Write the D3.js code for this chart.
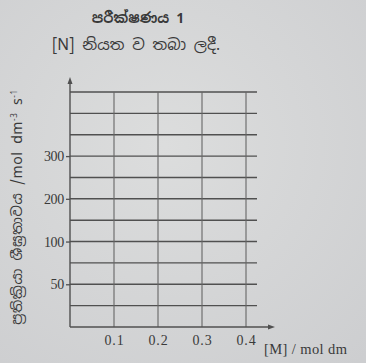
<!DOCTYPE html>
<html>
<head>
<meta charset="utf-8">
<script src="https://cdn.jsdelivr.net/npm/d3@7"></script>
<style>
  html, body { margin: 0; padding: 0; background: #d6d7d8; }
  svg { display: block; }
  text { font-family: "Liberation Serif", "DejaVu Serif", serif; fill: #3a3a3a; }
  .si { font-family: "Noto Sans Sinhala", "Noto Serif Sinhala", "Iskoola Pota", "Noto Sans", sans-serif; }
</style>
</head>
<body>
<script>
// ---- data ----
const titleLines = ["පරීක්ෂණය 1", "[N] නියත ව තබා ලදී."];
const xTicks = [0.1, 0.2, 0.3, 0.4];
const xTickLabels = ["0.1", "0.2", "0.3", "0.4"];
const xLabel = "[M] / mol dm";
const yGridRows = [1, 2, 3, 4, 5, 6, 7, 8, 9, 10, 11];
const yTickPositions = [2, 4, 6, 8];
const yTickLabels = ["50", "100", "200", "300"];
const yLabel = "ප්‍රතික්‍රියා ශීඝ්‍රතාවය /mol dm";

const W = 366, H = 363;
const svg = d3.select("body").append("svg").attr("width", W).attr("height", H);

// paper-like background
const defs = svg.append("defs");
const grad = defs.append("radialGradient").attr("id", "bg").attr("cx", "45%").attr("cy", "40%").attr("r", "80%");
grad.append("stop").attr("offset", "0%").attr("stop-color", "#dcdddd");
grad.append("stop").attr("offset", "100%").attr("stop-color", "#cdced0");
svg.append("rect").attr("width", W).attr("height", H).attr("fill", "url(#bg)");

const x = d3.scaleLinear().domain([0, 0.4]).range([70, 246]);
const y = d3.scaleLinear().domain([0, 11]).range([327, 92]);
const xEnd = 257;

const ink = "#505050";
const g = svg.append("g");

// horizontal grid lines
g.selectAll("line.h").data(yGridRows).join("line")
  .attr("x1", x(0)).attr("x2", xEnd)
  .attr("y1", d => y(d)).attr("y2", d => y(d))
  .attr("stroke", ink).attr("stroke-width", 1.4);

// vertical grid lines
g.selectAll("line.v").data(xTicks).join("line")
  .attr("x1", d => x(d)).attr("x2", d => x(d))
  .attr("y1", y(0)).attr("y2", y(11))
  .attr("stroke", "#666").attr("stroke-width", 1.1);

// axes with arrows
g.append("line").attr("x1", x(0)).attr("x2", x(0)).attr("y1", y(0)).attr("y2", 80)
  .attr("stroke", ink).attr("stroke-width", 1.4);
g.append("path").attr("d", `M${x(0)-2.5},84 L${x(0)},77 L${x(0)+2.5},84 Z`).attr("fill", ink);
g.append("line").attr("x1", x(0)).attr("x2", 270).attr("y1", y(0)).attr("y2", y(0))
  .attr("stroke", ink).attr("stroke-width", 1.6);
g.append("path").attr("d", `M268,${y(0)-2.5} L275,${y(0)} L268,${y(0)+2.5} Z`).attr("fill", ink);

// y tick labels
const yAxis = d3.axisLeft(y).tickValues(yTickPositions)
  .tickFormat((d, i) => yTickLabels[i]).tickSize(4).tickPadding(2);
const ya = g.append("g").attr("transform", `translate(${x(0)},0)`).call(yAxis);
ya.select(".domain").remove();
ya.selectAll("line").attr("stroke", ink).attr("stroke-width", 1.3);
ya.selectAll("text").attr("font-size", 14).attr("fill", "#333")
  .attr("font-family", "Liberation Serif, serif").attr("letter-spacing", -0.3);

// x tick labels
const xAxis = d3.axisBottom(x).tickValues(xTicks)
  .tickFormat((d, i) => xTickLabels[i]).tickSize(0).tickPadding(8);
const xa = g.append("g").attr("transform", `translate(0,${y(0)})`).call(xAxis);
xa.select(".domain").remove();
xa.selectAll("text").attr("font-size", 14).attr("fill", "#3a3a3a")
  .attr("font-family", "Liberation Serif, serif").attr("letter-spacing", 0.8);

// x axis label
svg.append("text").attr("x", 264).attr("y", 354)
  .attr("font-size", 14.5).attr("letter-spacing", 0.4).text(xLabel);

// y axis label (rotated)
const yl = svg.append("text").attr("class", "si")
  .attr("transform", "translate(22,207) rotate(-90)")
  .attr("text-anchor", "middle").attr("font-size", 14).attr("letter-spacing", 0.6);
yl.append("tspan").text(yLabel);
yl.append("tspan").attr("dy", -5).attr("font-size", 8).text("-3");
yl.append("tspan").attr("dy", 5).text(" s");
yl.append("tspan").attr("dy", -5).attr("font-size", 8).text("-1");

// titles
svg.append("text").attr("class", "si").attr("x", 138).attr("y", 23)
  .attr("text-anchor", "middle").attr("font-size", 14).attr("font-weight", "bold")
  .text(titleLines[0]);
svg.append("text").attr("class", "si").attr("x", 136).attr("y", 50)
  .attr("text-anchor", "middle").attr("font-size", 15.5)
  .text(titleLines[1]);
</script>
</body>
</html>
